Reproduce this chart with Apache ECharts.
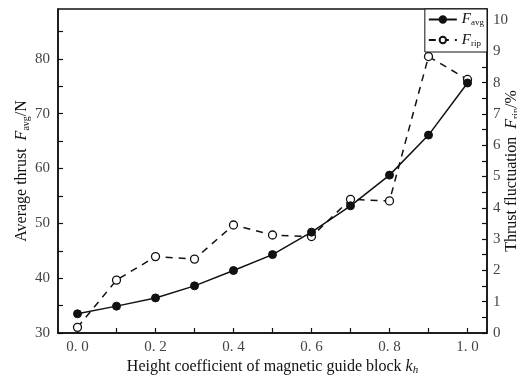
<!DOCTYPE html>
<html>
<head>
<meta charset="utf-8">
<script src="https://cdn.jsdelivr.net/npm/echarts@6/dist/echarts.min.js"></script>
<style>
html,body{margin:0;padding:0;background:#fff;}
#chart{width:517px;height:380px;}
</style>
</head>
<body>
<div id="chart"></div>
<script>
// Height coefficient of the magnetic guide block
var kh = [0.0, 0.1, 0.2, 0.3, 0.4, 0.5, 0.6, 0.7, 0.8, 0.9, 1.0];
// Average thrust, N
var fAvg = [33.5, 34.9, 36.4, 38.6, 41.4, 44.3, 48.4, 53.2, 58.8, 66.1, 75.6];
// Thrust fluctuation, %
var fRip = [0.18, 1.69, 2.44, 2.36, 3.45, 3.13, 3.08, 4.27, 4.22, 8.83, 8.10];

var xTicks = [0, 0.1, 0.2, 0.3, 0.4, 0.5, 0.6, 0.7, 0.8, 0.9, 1.0];
var xLabels = [0, 0.2, 0.4, 0.6, 0.8, 1.0];
var leftTicks = [30, 35, 40, 45, 50, 55, 60, 65, 70, 75, 80, 85];
var leftLabels = [30, 40, 50, 60, 70, 80];
var rightTicks = [0, 0.5, 1, 1.5, 2, 2.5, 3, 3.5, 4, 4.5, 5, 5.5, 6, 6.5, 7, 7.5, 8, 8.5, 9, 9.5, 10];
var rightLabels = [0, 1, 2, 3, 4, 5, 6, 7, 8, 9, 10];

var SERIF = '"Liberation Serif", "DejaVu Serif", serif';

function pairs(xs, ys) {
  return xs.map(function (x, i) { return [x, ys[i]]; });
}

var nameRich = {
  n: { fontFamily: SERIF, fontSize: 16, color: '#111' },
  i: { fontFamily: SERIF, fontSize: 16, fontStyle: 'italic', color: '#111' },
  s: { fontFamily: SERIF, fontSize: 10, color: '#111', padding: [8, 0, 0, 0] },
  si: { fontFamily: SERIF, fontSize: 11, fontStyle: 'italic', color: '#111', padding: [8, 0, 0, 0] }
};

var labelStyle = { fontFamily: SERIF, fontSize: 15, color: '#444' };

var chart = echarts.init(document.getElementById('chart'), null, { renderer: 'canvas' });
chart.setOption({
  backgroundColor: '#fff',
  animation: false,
  grid: {
    left: 58, right: 30, top: 9, bottom: 47,
    outerBoundsMode: 'none',
    containLabel: false,
    show: true, borderColor: '#111', borderWidth: 1.5, backgroundColor: 'transparent'
  },
  legend: {
    data: ['avg', 'rip'],
    orient: 'vertical',
    right: 30,
    top: 9,
    borderColor: '#111',
    borderWidth: 1,
    backgroundColor: '#fff',
    padding: [3, 3, 4, 3],
    itemWidth: 28,
    itemHeight: 8,
    itemGap: 5,
    formatter: function (name) { return '{i|F}{s|' + name + '}'; },
    textStyle: {
      rich: {
        i: { fontFamily: SERIF, fontSize: 15, fontStyle: 'italic', color: '#111' },
        s: { fontFamily: SERIF, fontSize: 9, color: '#111', padding: [7, 0, 0, 0] }
      }
    }
  },
  xAxis: {
    type: 'value',
    min: -0.05,
    max: 1.05,
    name: '{n|Height coefficient of magnetic guide block }{i|k}{si|h}',
    nameLocation: 'middle',
    nameGap: 24,
    nameMoveOverlap: false,
    nameTextStyle: { rich: nameRich },
    axisLine: { show: true, onZero: false, lineStyle: { color: '#111', width: 1.5 } },
    axisTick: { show: true, inside: true, length: 5, customValues: xTicks, lineStyle: { color: '#111', width: 1.2 } },
    axisLabel: { customValues: xLabels, margin: 7, formatter: function (v) { return v.toFixed(1).replace('.', '. '); }, fontFamily: SERIF, fontSize: 15, color: '#444' },
    splitLine: { show: false }
  },
  yAxis: [
    {
      type: 'value',
      position: 'left',
      min: 30,
      max: 89.1,
      name: '{n|Average thrust  }{i|F}{s|avg}{n|/N}',
      nameLocation: 'middle',
      nameRotate: 90,
      nameGap: 27,
      nameMoveOverlap: false,
      nameTextStyle: { rich: nameRich },
      axisLine: { show: true, onZero: false, lineStyle: { color: '#111', width: 1.5 } },
      axisTick: { show: true, inside: true, length: 5, customValues: leftTicks, lineStyle: { color: '#111', width: 1.2 } },
      axisLabel: Object.assign({ customValues: leftLabels, margin: 8 }, labelStyle),
      splitLine: { show: false }
    },
    {
      type: 'value',
      position: 'right',
      min: 0,
      max: 10.35,
      name: '{n|Thrust fluctuation  }{i|F}{s|rip}{n|/%}',
      nameLocation: 'middle',
      nameRotate: 90,
      nameGap: 16,
      nameMoveOverlap: false,
      nameTextStyle: { rich: nameRich },
      axisLine: { show: true, onZero: false, lineStyle: { color: '#111', width: 1.5 } },
      axisTick: { show: true, inside: true, length: 5, customValues: rightTicks, lineStyle: { color: '#111', width: 1.2 } },
      axisLabel: Object.assign({ customValues: rightLabels, margin: 6 }, labelStyle),
      splitLine: { show: false }
    }
  ],
  series: [
    {
      name: 'rip',
      type: 'line',
      yAxisIndex: 1,
      data: pairs(kh, fRip),
      symbol: 'circle',
      symbolSize: 8,
      lineStyle: { color: '#111', width: 1.5, type: [7, 6] },
      itemStyle: { color: '#fff', borderColor: '#111', borderWidth: 1.3 },
      z: 2
    },
    {
      name: 'avg',
      type: 'line',
      yAxisIndex: 0,
      data: pairs(kh, fAvg),
      symbol: 'circle',
      symbolSize: 8,
      lineStyle: { color: '#111', width: 1.5 },
      itemStyle: { color: '#111', borderColor: '#111', borderWidth: 1 },
      z: 3
    }
  ]
});
</script>
</body>
</html>
